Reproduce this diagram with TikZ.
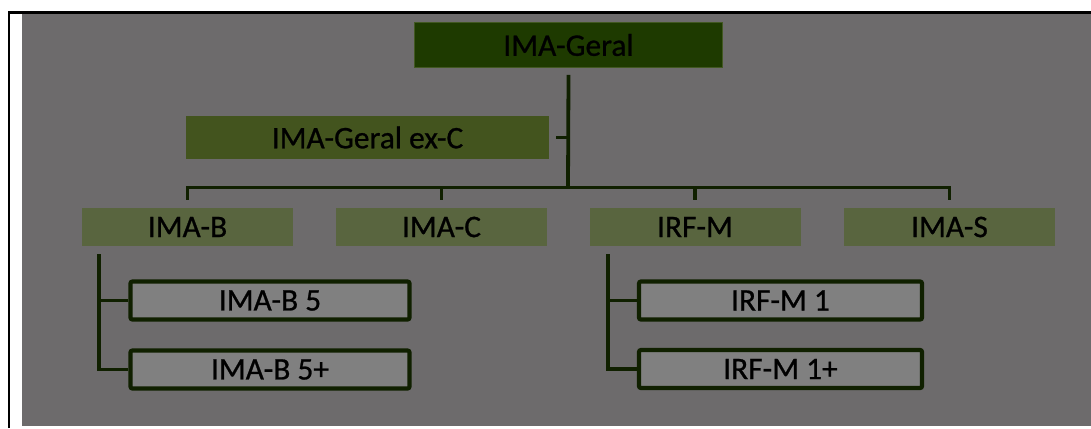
\documentclass[tikz,border=0pt]{standalone}
\usepackage{fontspec}
\setmainfont{Carlito}
\newfontfamily\labelfont{Carlito}[FakeBold=0.8]
\definecolor{bg}{RGB}{109,107,108}
\definecolor{geral}{RGB}{30,58,0}
\definecolor{geralrim}{RGB}{66,88,34}
\definecolor{exc}{RGB}{67,84,30}
\definecolor{lvl}{RGB}{89,101,63}
\definecolor{leaf}{RGB}{128,128,128}
\definecolor{wire}{RGB}{16,32,0}
\begin{document}
\begin{tikzpicture}[x=1bp, y=-1bp,
  box/.style={rectangle, inner sep=0pt, font=\labelfont\fontsize{31.5}{36}\selectfont, text=black},
  topbox/.style={box, fill=geral, draw=geralrim, line width=0.8bp, minimum width=308bp, minimum height=45bp},
  exbox/.style={box, fill=exc, minimum width=363bp, minimum height=43bp},
  lvlbox/.style={box, fill=lvl, minimum width=211bp, minimum height=38bp},
  leafbox/.style={box, fill=leaf, draw=wire, line width=4.2bp, rounded corners=2bp, minimum width=279bp, minimum height=38bp},
  link/.style={draw=wire, line width=3.8bp}]
  \useasboundingbox (0,0) rectangle (1091,428);
  \fill[white] (0,0) rectangle (1091,428);
  \fill[bg] (22,14) rectangle (1091,425.5);
  \draw[line width=2.5bp] (9,428) -- (9,12.5) -- (1091,12.5);

  \node[topbox](Geral) at (568.5,45) {IMA-Geral};
  \node[exbox](GeralX) at (367.5,137.5) {IMA-Geral ex-C};
  \node[lvlbox](IMAB) at (187.5,227) {IMA-B};
  \node[lvlbox](IMAC) at (441.5,227) {IMA-C};
  \node[lvlbox](IRFM) at (695,227) {IRF-M};
  \node[lvlbox](IMAS) at (949.5,227) {IMA-S};
  \node[leafbox](B5) at (270,300.5) {IMA-B 5};
  \node[leafbox](B5p) at (270,369.5) {IMA-B 5+};
  \node[leafbox, minimum width=283bp](M1) at (780.5,300.5) {IRF-M 1};
  \node[leafbox, minimum width=283bp](M1p) at (780.5,369) {IRF-M 1+};

  \coordinate (bus) at (568,187.5);
  \draw[link] ([yshift=-7bp]Geral.south) -- (bus);
  \draw[link] ([xshift=7bp]GeralX.east) -- (GeralX.east -| bus);
  \draw[link] ([yshift=8bp]IMAB.north) |- (bus) -| ([yshift=8bp]IMAS.north);
  \draw[link] ([yshift=8bp]IMAC.north) -- (IMAC.north |- bus);
  \draw[link] ([yshift=8bp]IRFM.north) -- (IRFM.north |- bus);

  \coordinate (subB) at ([xshift=17bp, yshift=-8bp]IMAB.south west);
  \draw[link] (subB) |- (B5p.west);
  \draw[link] (B5.west) -- (B5.west -| subB);
  \coordinate (subM) at ([xshift=19bp, yshift=-8bp]IRFM.south west);
  \draw[link] (subM) |- (M1p.west);
  \draw[link] (M1.west) -- (M1.west -| subM);
\end{tikzpicture}
\end{document}
